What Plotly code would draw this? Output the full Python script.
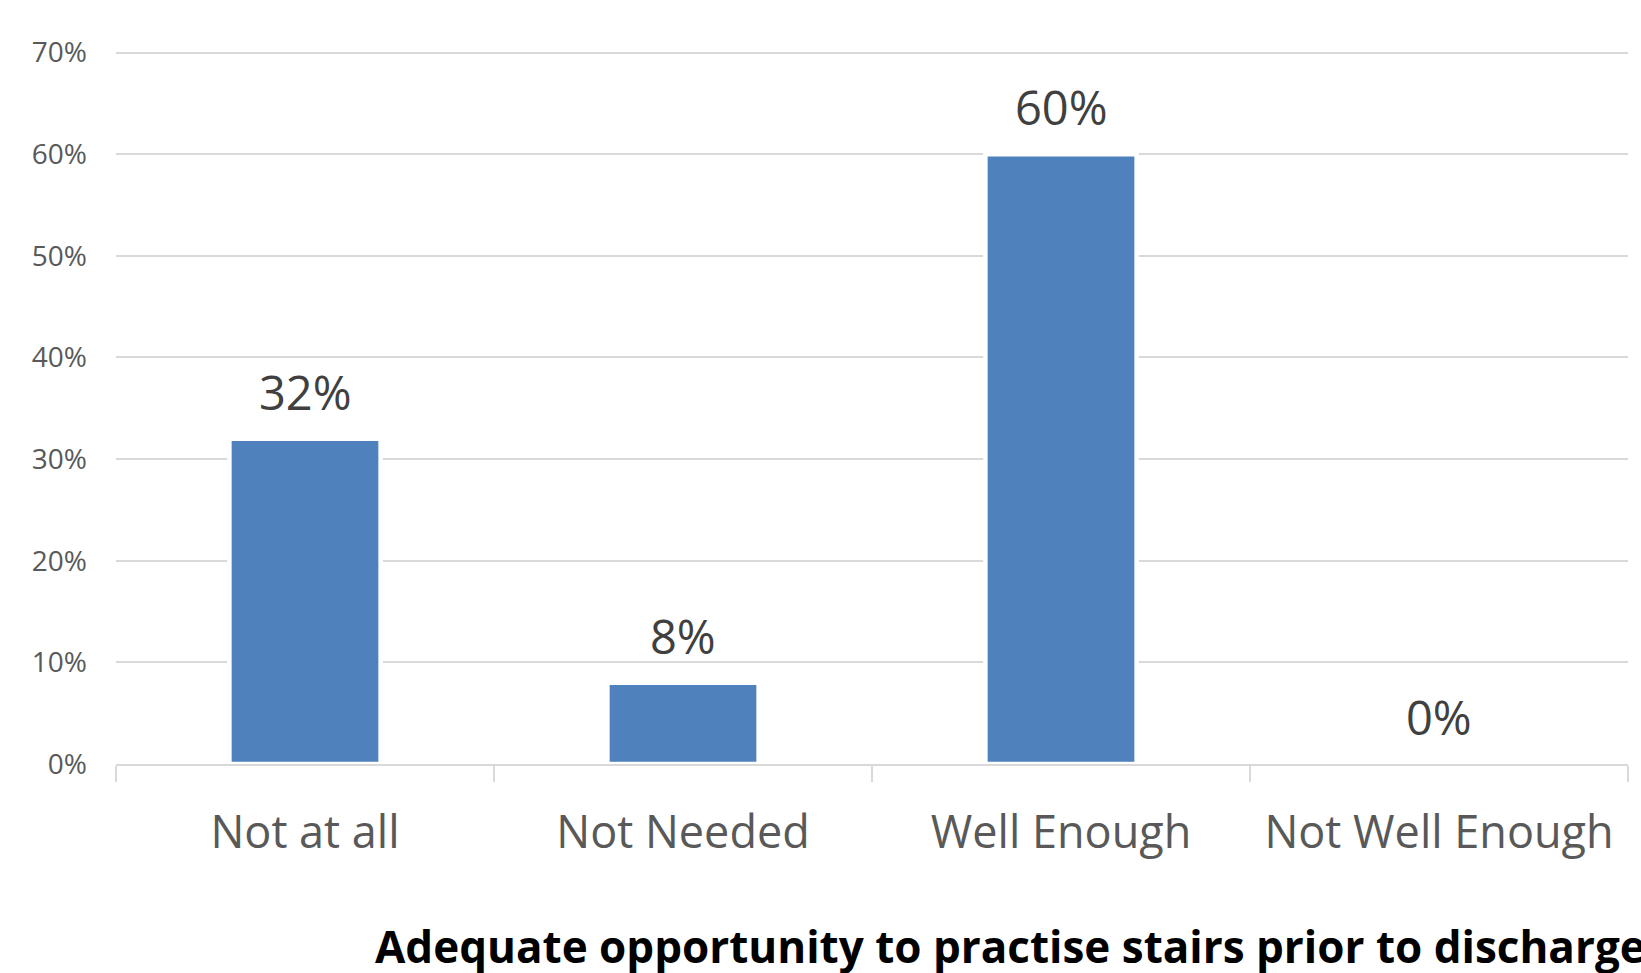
import plotly.graph_objects as go

categories = ["Not at all", "Not Needed", "Well Enough", "Not Well Enough"]
values = [32, 8, 60, 0]
value_labels = ["32%", "8%", "60%", "0%"]
y_ticks = [0, 10, 20, 30, 40, 50, 60, 70]
y_tick_labels = ["0%", "10%", "20%", "30%", "40%", "50%", "60%", "70%"]
x_title = "Adequate opportunity to practise stairs prior to discharge"

FONT = "Open Sans"

fig = go.Figure()
fig.add_trace(go.Bar(
    x=categories, y=values, width=0.40,
    marker=dict(color="#4F81BD", line=dict(color="#FFFFFF", width=4.5)),
    hoverinfo="skip",
))

for c, v, t in zip(categories, values, value_labels):
    fig.add_annotation(x=c, y=v, text=t, showarrow=False, yanchor="bottom",
                       yshift=13, font=dict(family=FONT, size=47, color="#404040"))

fig.add_annotation(xref="paper", yref="paper", x=(373-116)/1512, y=-0.0, yanchor="top",
                   xanchor="left", yshift=-150, text="<b>" + x_title + "</b>", showarrow=False,
                   font=dict(family=FONT, size=44, color="#000000"))

fig.update_layout(
    width=1641, height=973,
    margin=dict(l=116, r=13, t=51, b=209),
    paper_bgcolor="white", plot_bgcolor="white",
    showlegend=False,
    font=dict(family=FONT),
    xaxis=dict(
        range=[-0.5, 3.5], showgrid=False, showline=True, linecolor="#D9D9D9", linewidth=2,
        ticks="outside", tickson="boundaries", ticklen=16, tickcolor="#D9D9D9", tickwidth=2,
        tickfont=dict(family=FONT, size=45, color="#595959"), ticklabelstandoff=28,
    ),
    yaxis=dict(
        range=[0, 70.15], tickvals=y_ticks, ticktext=y_tick_labels,
        showgrid=True, gridcolor="#D9D9D9", gridwidth=2, zeroline=False, showline=False,
        tickfont=dict(family=FONT, size=28, color="#595959"), ticklabelstandoff=28,
    ),
)

fig.write_html("out.html")
